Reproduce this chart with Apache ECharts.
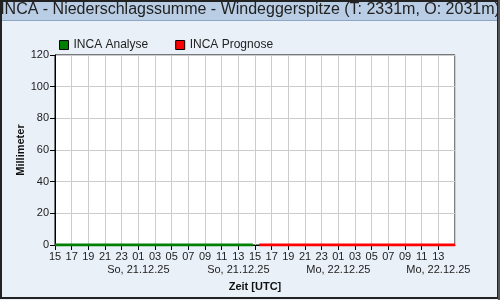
<!DOCTYPE html>
<html>
<head>
<meta charset="utf-8">
<script src="https://cdn.jsdelivr.net/npm/echarts@6/dist/echarts.min.js"></script>
<style>
html,body{margin:0;padding:0;background:#eaf0f8;}
#chart{width:500px;height:300px;}
</style>
</head>
<body>
<div id="chart"></div>
<script>
// Title and axis texts
const titleText = "INCA - Niederschlagssumme - Windeggerspitze (T: 2331m, O: 2031m)";
const seriesNames = ["INCA Analyse", "INCA Prognose"];
// Hour tick labels (every 2 h from 15 UTC Sa 20.12.25, offsets 0..46)
const hourLabels = ["15","17","19","21","23","01","03","05","07","09","11","13",
                    "15","17","19","21","23","01","03","05","07","09","11","13"];
// Date labels under selected ticks (index into hourLabels)
const dateLabels = {5: "So, 21.12.25", 11: "So, 21.12.25", 17: "Mo, 22.12.25", 23: "Mo, 22.12.25"};
// Analyse: hours since start, precipitation sum in mm
const analyseHours = [0,1,2,3,4,5,6,7,8,9,10,11,12,13,14,15,16,17,18,19,20,21,22,23,23.75];
const analyseValues = [0,0,0,0,0,0,0,0,0,0,0,0,0,0,0,0,0,0,0,0,0,0,0,0,0];
// Prognose
const prognoseHours = [24.5,25,26,27,28,29,30,31,32,33,34,35,36,37,38,39,40,41,42,43,44,45,46,47,48];
const prognoseValues = [0,0,0,0,0,0,0,0,0,0,0,0,0,0,0,0,0,0,0,0,0,0,0,0,0];
const yTicks = [0,20,40,60,80,100,120];

const chart = echarts.init(document.getElementById('chart'), null, {renderer:'canvas'});
const font = "'Liberation Sans', Arial, sans-serif";
const zip = (a, b) => a.map((x, i) => [x, b[i]]);

chart.setOption({
  backgroundColor: '#eaf0f8',
  animation: false,
  textStyle: {fontFamily: font},
  graphic: [
    {type:'rect', shape:{x:0,y:0,width:500,height:20}, style:{fill:'#b9cde5'}, z:-10, silent:true},
    {type:'line', shape:{x1:0,y1:20.5,x2:500,y2:20.5}, style:{stroke:'#8ea6c6',lineWidth:1}, z:-9, silent:true},
    {type:'rect', shape:{x:1,y:1,width:497,height:297}, style:{fill:null, stroke:'#222', lineWidth:2}, z:100, silent:true},
    {type:'line', shape:{x1:499,y1:0,x2:499,y2:300}, style:{stroke:'#555',lineWidth:2}, z:100, silent:true}
  ],
  title: {
    text: titleText,
    left: 'center',
    top: 2,
    padding: 0,
    textStyle: {fontFamily: font, fontSize: 16, fontWeight: 'normal', color: '#222'}
  },
  legend: {
    left: 59, top: 39,
    padding: 0,
    itemWidth: 9, itemHeight: 9,
    itemGap: 27,
    itemTextGap: 4,
    icon: 'rect',
    textStyle: {fontFamily: font, fontSize: 12, color: '#222'},
    data: [
      {name: seriesNames[0], itemStyle:{color:'#008000', borderColor:'#000', borderWidth:1}},
      {name: seriesNames[1], itemStyle:{color:'#ff0000', borderColor:'#000', borderWidth:1}}
    ]
  },
  grid: {
    left: 55, right: 45, top: 55, bottom: 55,
    show: true, backgroundColor: '#fff', borderColor: '#000', borderWidth: 1,
    containLabel: false
  },
  xAxis: {
    type: 'value', min: 0, max: 48, interval: 2,
    name: 'Zeit [UTC]', nameLocation: 'middle', nameGap: 36, nameMoveOverlap: false,
    nameTextStyle: {fontFamily: font, fontSize: 11, fontWeight: 'bold', color: '#111'},
    axisLine: {show: true, onZero: false, lineStyle: {color: '#000', width: 1}},
    axisTick: {show: true, length: 5, lineStyle: {color: '#000'}},
    splitLine: {show: true, lineStyle: {color: '#cccccc', width: 1}},
    axisLabel: {
      showMaxLabel: false, margin: 5,
      fontFamily: font, fontSize: 11, color: '#222', lineHeight: 13,
      formatter: function (v) {
        const i = Math.round(v / 2);
        if (i >= hourLabels.length) return '';
        return dateLabels[i] ? hourLabels[i] + '\n' + dateLabels[i] : hourLabels[i];
      }
    }
  },
  yAxis: {
    type: 'value', min: yTicks[0], max: yTicks[yTicks.length - 1], interval: 20,
    name: 'Millimeter', nameLocation: 'middle', nameGap: 29, nameRotate: 90, nameMoveOverlap: false,
    nameTextStyle: {fontFamily: font, fontSize: 11, fontWeight: 'bold', color: '#111'},
    axisLine: {show: true, lineStyle: {color: '#000', width: 1}},
    axisTick: {show: true, length: 5, lineStyle: {color: '#000'}},
    splitLine: {show: true, lineStyle: {color: '#cccccc', width: 1}},
    axisLabel: {margin: 6, fontFamily: font, fontSize: 11, color: '#222'}
  },
  series: [
    {name: seriesNames[0], type: 'line', data: zip(analyseHours, analyseValues),
     showSymbol: false, symbol: 'none', color: '#008000',
     lineStyle: {color: '#008000', width: 3}, z: 5},
    {name: seriesNames[1], type: 'line', data: zip(prognoseHours, prognoseValues),
     showSymbol: false, symbol: 'none', color: '#ff0000',
     lineStyle: {color: '#ff0000', width: 3}, z: 5}
  ]
});
</script>
</body>
</html>
